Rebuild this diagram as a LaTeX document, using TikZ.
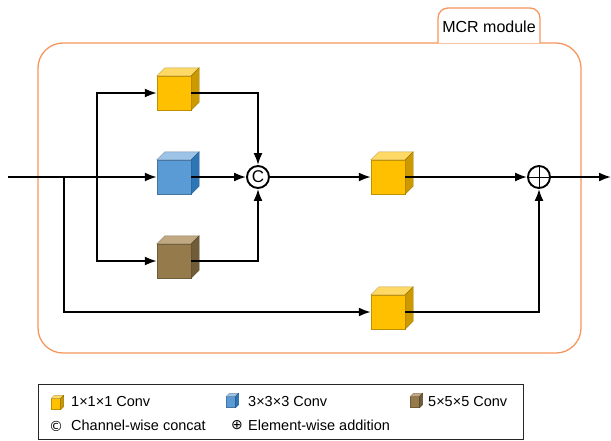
\documentclass[tikz,border=0pt]{standalone}
\usepackage{fontspec}
\setmainfont{Liberation Sans}
\newfontfamily\symfont{DejaVu Sans}
\usetikzlibrary{arrows.meta}

\definecolor{mcrorange}{RGB}{246,150,92}
\definecolor{ylwfront}{RGB}{255,192,0}
\definecolor{ylwtop}{RGB}{255,217,102}
\definecolor{ylwside}{RGB}{204,153,0}
\definecolor{blufront}{RGB}{91,155,213}
\definecolor{blutop}{RGB}{157,195,230}
\definecolor{bluside}{RGB}{46,117,182}
\definecolor{brnfront}{RGB}{149,123,76}
\definecolor{brntop}{RGB}{191,168,130}
\definecolor{brnside}{RGB}{112,92,56}

% top and side faces of a cube node: name, depth, top colour, side colour
\newcommand{\cubefaces}[4]{%
  \filldraw[fill=#3, draw=#3!75!black, line width=0.4pt]
    (#1.north west) -- ([shift={(#2,-#2)}]#1.north west)
    -- ([shift={(#2,-#2)}]#1.north east) -- (#1.north east) -- cycle;
  \filldraw[fill=#4, draw=#4!75!black, line width=0.4pt]
    (#1.north east) -- ([shift={(#2,-#2)}]#1.north east)
    -- ([shift={(#2,-#2)}]#1.south east) -- (#1.south east) -- cycle;
}

\begin{document}
\begin{tikzpicture}[x=1pt, y=-1pt,
  cube/.style={draw=#1!75!black, fill=#1, line width=0.4pt,
    minimum width=34, minimum height=34, inner sep=0},
  mini/.style={draw=#1!75!black, fill=#1, line width=0.3pt,
    minimum width=9, minimum height=11, inner sep=0},
  opcirc/.style={circle, draw, line width=1.9pt, fill=white,
    minimum size=22, inner sep=0},
  flow/.style={line width=1.9pt, -{Latex[length=12pt,width=9pt]}},
  lbl/.style={font=\fontsize{14.5}{17}\selectfont, inner sep=0, anchor=west},
  sym/.style={font=\symfont\fontsize{14}{16}\selectfont, inner sep=0}]

\useasboundingbox (0,0) rectangle (611,440);

% module frame
\draw[mcrorange, line width=1.3pt, rounded corners=25]
  (38,43) rectangle (581,353);
\draw[mcrorange, line width=1.3pt, fill=white, rounded corners=10]
  (438,43) -- (438,8) -- (540,8) -- (540,43);
\node[font=\fontsize{16}{19}\selectfont] (title) at (489,27) {MCR module};

% cubes
\node[cube=ylwfront] (ca) at (174,93) {};
\node[cube=blufront] (cb) at (174,177) {};
\node[cube=brnfront] (cc) at (174,261) {};
\node[cube=ylwfront] (cd) at (388,177) {};
\node[cube=ylwfront] (ce) at (388,312) {};
\cubefaces{ca}{8}{ylwtop}{ylwside}
\cubefaces{cb}{8}{blutop}{bluside}
\cubefaces{cc}{8}{brntop}{brnside}
\cubefaces{cd}{8}{ylwtop}{ylwside}
\cubefaces{ce}{8}{ylwtop}{ylwside}

% operators
\node[opcirc, font=\fontsize{17}{19}\selectfont] (cat) at (258,177) {C};
\node[opcirc, path picture={
  \draw[line width=1pt] (path picture bounding box.north) -- (path picture bounding box.south)
    (path picture bounding box.west) -- (path picture bounding box.east);}] (add) at (539,177) {};

\coordinate (in) at (8,177);
\coordinate (out) at (611,177);
\coordinate (s1) at (64,177);
\coordinate (s2) at (97,177);

% connectors
\draw[flow] (in) -- (cb);
\draw[flow] (s2) |- (ca);
\draw[flow] (s2) |- (cc);
\draw[flow] (s1) |- (ce);
\draw[flow] (ca) -| (cat);
\draw[flow] (cb) -- (cat);
\draw[flow] (cc) -| (cat);
\draw[flow] (cat) -- (cd);
\draw[flow] (cd) -- (add);
\draw[flow] (ce) -| (add);
\draw[flow] (add) -- (out);

% legend
\draw[black!85, line width=0.9pt] (38,384) rectangle (523,439);
\node[mini=ylwfront] (ka) at (56,404) {};
\node[mini=blufront] (kb) at (231,402) {};
\node[mini=brnfront] (kc) at (415,402) {};
\cubefaces{ka}{3}{ylwtop}{ylwside}
\cubefaces{kb}{3}{blutop}{bluside}
\cubefaces{kc}{3}{brntop}{brnside}
\node[lbl] (la) at (71,402) {1×1×1 Conv};
\node[lbl] (lb) at (248,402) {3×3×3 Conv};
\node[lbl] (lc) at (428,402) {5×5×5 Conv};
\node[sym] (kd) at (56,426) {©};
\node[sym] (ke) at (237,425) {⊕};
\node[lbl] (ld) at (71,425) {Channel-wise concat};
\node[lbl] (le) at (248,425) {Element-wise addition};
\end{tikzpicture}
\end{document}
